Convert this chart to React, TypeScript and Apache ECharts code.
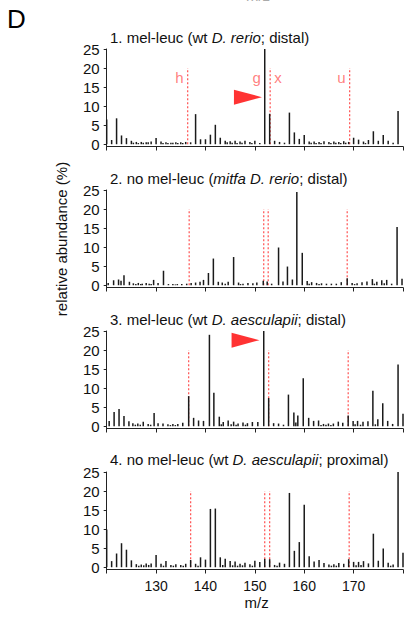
import React, { useEffect, useRef } from 'react';
import * as echarts from 'echarts';

const FONT = '"Liberation Sans", Arial, Helvetica, sans-serif';

// ---- text ----
const panelTitles = [
  ['1. mel-leuc (wt ', 'D. rerio', '; distal)'],
  ['2. no mel-leuc (', 'mitfa D. rerio', '; distal)'],
  ['3. mel-leuc (wt ', 'D. aesculapii', '; distal)'],
  ['4. no mel-leuc (wt ', 'D. aesculapii', '; proximal)'],
];
const xTickLabels = [130, 140, 150, 160, 170];
const yTickLabels = [0, 5, 10, 15, 20, 25];

// ---- panel 1 ----
const p1X = [120,121,122,123,124,125,126,127,128,129,130,131,132,133,134,135,136,137,138,139,140,141,142,143,144,145,146,147,148,149,150,151,152,153,154,155,156,157,158,159,160,161,162,163,164,165,166,167,168,169,170,171,172,173,174,175,176,177,178,179];
const p1Y = [6.5,1.1,6.8,2.3,1.6,0.9,0.6,0.6,0.5,0.7,1.6,0.7,0.5,0.4,0.5,0.5,0.6,0.5,7.9,1.3,1.3,2.5,5.1,1.7,0.9,0.8,0.9,0.7,0.9,0.6,0.9,0.3,25,8.0,0.9,0.6,0.4,8.3,3.1,1.4,2.4,0.7,0.7,0.6,0.8,0.6,0.7,0.6,0.8,0.6,1.7,1.2,0.7,1.1,3.4,0.9,2.4,0.9,0.4,8.7];
const p1MinorX = [125.4,126.4,127.4,128.4,131.4,132.4,133.4,134.4,135.4,144.4,145.4,146.4,147.4,149.4,161.4,162.4,163.4,165.4,166.4,167.4,168.4,172.4];
const p1MinorY = [0.4,0.3,0.4,0.5,0.3,0.3,0.4,0.3,0.3,0.5,0.4,0.3,0.4,0.3,0.4,0.3,0.3,0.3,0.4,0.3,0.4,0.3];
const p1Dash = [136.4, 153.1, 169.2];
const p1Letters = ['h', 'g', 'x', 'u'];
const p1LetterX = [136.4, 152, 153.1, 169.2];
const p1LetterSide = ['left', 'left', 'right', 'left'];

// ---- panel 2 ----
const p2X = [120.3,121.4,122.4,122.9,123.5,124.6,125.4,126.4,127.2,128.0,128.6,129.5,130.4,131.5,132.5,133.4,134.3,135.2,136.2,137.1,138.0,138.9,139.6,140.6,141.6,142.6,143.4,144.6,145.7,146.7,147.6,148.6,149.6,150.4,151.7,152.5,153.4,154.8,155.7,156.6,157.6,158.5,159.6,160.6,161.5,162.5,163.5,164.5,165.5,166.5,167.5,168.7,169.7,170.7,171.7,172.7,173.8,174.7,175.7,176.7,177.7,178.8,179.8];
const p2Y = [0.6,1.3,1.5,1.2,2.6,0.9,0.5,0.6,0.4,0.6,0.4,1.4,0.6,3.8,0.3,0.3,0.3,0.3,0.4,0.6,0.7,0.9,1.4,3.2,7.0,0.9,0.7,0.9,7.4,0.7,0.4,0.6,0.5,0.7,1.2,1.0,0.4,9.9,1.0,4.9,1.5,24.5,8.5,1.1,0.8,0.6,0.5,0.4,0.4,0.4,0.8,1.8,0.6,0.5,0.8,1.0,1.6,0.9,1.3,1.4,0.4,15.3,1.7];
const p2MinorX = [125.9,126.9,129.0,133.9,144.0,147.1,161.0,163.0,170.2,174.2,176.2];
const p2MinorY = [0.3,0.3,0.3,0.2,0.4,0.3,0.4,0.3,0.3,0.4,0.5];
const p2Dash = [136.7, 151.8, 152.7, 168.7];

// ---- panel 3 ----
const p3X = [120.5,121.5,122.5,123.5,124.5,125.3,126.3,127.4,128.4,129.6,130.4,131.4,132.4,133.4,134.4,135.4,136.6,137.6,138.6,139.6,140.8,141.7,142.8,143.6,144.6,145.7,146.6,147.6,148.5,149.5,150.6,151.8,152.8,153.8,154.8,155.8,156.8,157.9,158.7,159.8,160.9,161.9,162.9,163.9,164.9,165.9,166.9,167.8,168.9,169.9,170.8,171.9,172.9,173.9,174.9,175.9,176.9,177.9,179.0,180.0];
const p3Y = [1.4,3.7,4.5,2.7,1.3,0.8,0.7,1.2,0.6,3.5,0.8,0.7,0.5,0.6,0.6,0.9,7.9,2.2,1.5,1.4,24,8.8,2.5,1.1,1.5,1.2,0.7,1.0,0.8,1.1,1.1,25,7.4,0.8,0.7,0.4,8.3,3.6,2.8,12.6,2.2,1.4,1.5,0.6,0.7,0.7,1.2,0.9,2.8,1.4,1.4,1.2,1.3,9.3,1.8,6.0,1.4,0.6,16.2,3.3];
const p3MinorX = [125.8,126.8,128.9,132.9,133.9,143.2,145.2,146.2,148.1,158.3,163.4,164.4,165.4,170.3,171.4,174.4];
const p3MinorY = [0.4,0.4,0.4,0.3,0.3,0.5,0.5,0.4,0.4,1.0,0.3,0.4,0.3,0.5,0.4,0.5];
const p3Dash = [136.6, 152.8, 168.9];

// ---- panel 4 ----
const p4X = [120,121,122,123,124,125,126,127,128,129,130,131,132,133,134,135,136,137,138,139,140,141,142,143,144,145,146,147,148,149,150,151,152,153,154,155,156,157,158,159,160,161,162,163,164,165,166,167,168,169,170,171,172,173,174,175,176,177,178,179,180];
const p4Y = [9.9,1.6,3.6,6.3,4.6,1.8,0.8,0.7,1.0,1.0,3.2,0.9,1.6,0.6,0.8,0.6,0.9,1.9,0.9,2.6,2.0,15.3,15.4,2.6,2.2,1.6,1.5,0.9,1.2,0.8,1.7,1.4,2.2,2.1,0.6,1.2,0.9,19.5,4.3,6.6,16.4,2.9,1.5,1.9,1.1,0.7,0.8,1.1,0.9,2.1,1.4,1.4,1.6,1.0,8.8,1.7,4.9,1.2,0.7,25,3.8];
const p4MinorX = [126.5,127.5,128.5,131.5,133.5,135.5,138.5,143.5,145.5,146.5,147.5,149.5,154.5,165.5,166.5,170.5,171.5,177.5];
const p4MinorY = [0.4,0.5,0.6,0.4,0.4,0.4,0.4,0.6,0.5,0.4,0.5,0.4,0.4,0.4,0.4,0.5,0.6,0.4];
const p4Dash = [137.0, 152.0, 153.0, 169.1];

// arrows (tip position)
const arrowPanel = [0, 2];
const arrowX = [151.44, 150.95];
const arrowY = [12.35, 22.6];

const dashTop = 20;
const letterY = 17.6;

const panels = [
  { x: p1X, y: p1Y, mx: p1MinorX, my: p1MinorY, dash: p1Dash },
  { x: p2X, y: p2Y, mx: p2MinorX, my: p2MinorY, dash: p2Dash },
  { x: p3X, y: p3Y, mx: p3MinorX, my: p3MinorY, dash: p3Dash },
  { x: p4X, y: p4Y, mx: p4MinorX, my: p4MinorY, dash: p4Dash },
];

const gridTops = [49, 190, 331, 472];
const titleYs = [37.7, 178, 319, 459];
const GRID_H = 97.5;

export default function App() {
  const ref = useRef<HTMLDivElement>(null);
  useEffect(() => {
    if (!ref.current) return;
    const chart = echarts.init(ref.current, undefined, { renderer: 'svg' });
    const grids: any[] = [];
    const xAxes: any[] = [];
    const yAxes: any[] = [];
    const series: any[] = [];
    const graphics: any[] = [];

    panels.forEach((p, i) => {
      grids.push({ left: 106.7, width: 296.3, top: gridTops[i], height: GRID_H });
      xAxes.push({
        type: 'value', gridIndex: i, min: 120, max: 180, interval: 10,
        axisLine: { show: true, onZero: false, lineStyle: { color: '#222', width: 1 } },
        axisTick: { show: true, length: 4, lineStyle: { color: '#222' } },
        axisLabel: {
          show: i === 3, customValues: xTickLabels, margin: 9,
          fontSize: 14, fontFamily: FONT, color: '#111',
        },
        splitLine: { show: false },
      });
      yAxes.push({
        type: 'value', gridIndex: i, min: -0.6, max: 25,
        axisLine: { show: true, lineStyle: { color: '#222', width: 1 } },
        axisTick: { show: true, length: 3, customValues: yTickLabels, lineStyle: { color: '#222' } },
        axisLabel: { customValues: yTickLabels, margin: 7, fontSize: 15, fontFamily: FONT, color: '#111' },
        splitLine: { show: false },
      });
      // dashed marker lines
      p.dash.forEach((d) => {
        series.push({
          type: 'line', xAxisIndex: i, yAxisIndex: i, z: 1, silent: true,
          symbol: 'none', data: [[d, 0], [d, dashTop]],
          lineStyle: { color: '#ff5050', width: 1.2, type: [2, 2] },
        });
      });
      const data: any[] = p.x.map((x, k) => [x, p.y[k]]);
      p.mx.forEach((x, k) => data.push([x, p.my[k]]));
      series.push({
        type: 'bar', xAxisIndex: i, yAxisIndex: i, z: 2, barWidth: 1.5,
        data, itemStyle: { color: '#1a1a1a' }, silent: true,
      });
      const t = panelTitles[i];
      graphics.push({
        type: 'text', x: 110, y: titleYs[i],
        style: {
          text: `{n|${t[0]}}{i|${t[1]}}{n|${t[2]}}`,
          verticalAlign: 'middle',
          rich: {
            n: { fontSize: 15, fontFamily: FONT, fill: '#111' },
            i: { fontSize: 15, fontFamily: FONT, fontStyle: 'italic', fill: '#111' },
          },
        },
      });
    });

    // letters in panel 1
    series.push({
      type: 'scatter', xAxisIndex: 0, yAxisIndex: 0, z: 3, symbolSize: 0, silent: true,
      data: p1Letters.map((l, k) => ({
        name: l, value: [p1LetterX[k], letterY],
        label: { show: true, position: p1LetterSide[k], distance: 4, formatter: '{b}', fontSize: 15, fontFamily: FONT, color: '#ff6060' },
      })),
    });
    // arrows
    arrowPanel.forEach((pi, k) => {
      series.push({
        type: 'scatter', xAxisIndex: pi, yAxisIndex: pi, z: 4, silent: true,
        symbol: 'path://M0,0L28,7.5L0,15Z', symbolSize: [28, 15], symbolKeepAspect: false,
        symbolOffset: [-14, 0],
        itemStyle: { color: '#ff0000' },
        data: [[arrowX[k], arrowY[k]]],
      });
    });

    graphics.push(
      { type: 'text', x: 7, y: 19, style: { text: 'D', fontSize: 26, fontFamily: FONT, fill: '#000', verticalAlign: 'middle' } },
      { type: 'text', x: 258, y: -5, style: { text: 'm/z', fontSize: 15, fontFamily: FONT, fill: '#aaa', align: 'center', verticalAlign: 'middle' } },
      { type: 'text', x: 256.7, y: 602.7, style: { text: 'm/z', fontSize: 15, fontFamily: FONT, fill: '#111', align: 'center', verticalAlign: 'middle' } },
      { type: 'text', x: 61, y: 239, rotation: Math.PI / 2, style: { text: 'relative abundance (%)', fontSize: 15, fontFamily: FONT, fill: '#111', align: 'center', verticalAlign: 'middle' } },
    );

    chart.setOption({
      animation: false,
      backgroundColor: '#fff',
      grid: grids, xAxis: xAxes, yAxis: yAxes, series, graphic: graphics,
    });
    return () => chart.dispose();
  }, []);
  return <div ref={ref} style={{ position: 'fixed', left: 0, top: 0, width: 406, height: 618 }} />;
}
